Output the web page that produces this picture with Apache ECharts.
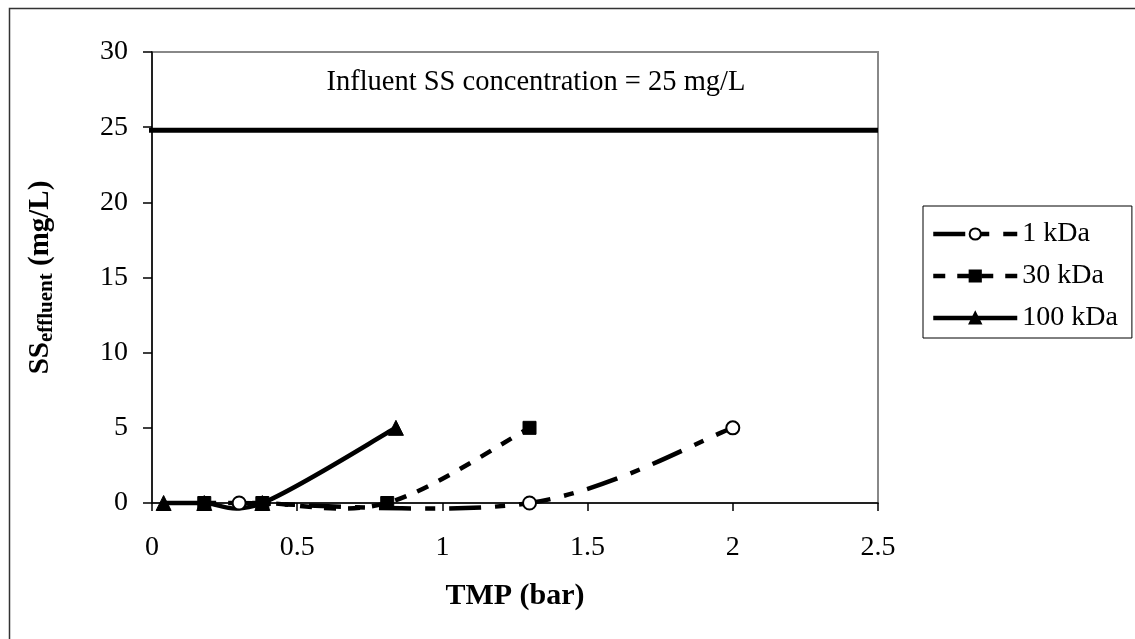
<!DOCTYPE html>
<html>
<head>
<meta charset="utf-8">
<script src="https://cdn.jsdelivr.net/npm/echarts@6/dist/echarts.min.js"></script>
<style>
html,body{margin:0;padding:0;background:#fff;}
#chart{width:1135px;height:639px;}
</style>
</head>
<body>
<div id="chart"></div>
<script>
// ---- data ----
const seriesNames = ['1 kDa', '30 kDa', '100 kDa'];
const tmp1 = [0.30, 1.30, 2.00];
const ss1 = [0, 0, 5];
const tmp30 = [0.18, 0.38, 0.81, 1.30];
const ss30 = [0, 0, 0, 5];
const tmp100 = [0.04, 0.18, 0.38, 0.84];
const ss100 = [0, 0, 0, 5];
const influentX = [-0.025, 2.5];
const influentY = [24.8, 24.8];
const influentLabel = 'Influent SS concentration = 25 mg/L';
const influentLabelPos = [1.322, 27.94];
const xTicks = [0, 0.5, 1, 1.5, 2, 2.5];
const yTicks = [0, 5, 10, 15, 20, 25, 30];

const zip = (xs, ys) => xs.map((x, i) => [x, ys[i]]);
const FONT = '"Liberation Serif", "Times New Roman", serif';

const dash1 = [32, 14, 10, 14];
const dash30 = [12, 12];
const LW = 4.5;

// Excel-style smoothed line (Catmull-Rom bezier) built on pixel points from api.coord
function smoothPath(pts) {
  const n = pts.length;
  const tan = pts.map((p, i) => {
    const a = pts[Math.max(0, i - 1)], b = pts[Math.min(n - 1, i + 1)];
    return [(b[0] - a[0]) / 6, (b[1] - a[1]) / 6];
  });
  let d = 'M' + pts[0][0] + ' ' + pts[0][1];
  for (let i = 0; i < n - 1; i++) {
    const p = pts[i], q = pts[i + 1];
    d += ' C' + (p[0] + tan[i][0]) + ' ' + (p[1] + tan[i][1]) + ' ' +
      (q[0] - tan[i + 1][0]) + ' ' + (q[1] - tan[i + 1][1]) + ' ' + q[0] + ' ' + q[1];
  }
  return d;
}

function curveSeries(xs, ys, dash, z) {
  return {
    type: 'custom', name: '_curve' + z, data: zip(xs, ys), z: z, silent: true,
    encode: {x: 0, y: 1},
    renderItem: (params, api) => {
      if (params.dataIndex !== 0) return;
      const pts = xs.map((x, i) => api.coord([x, ys[i]]));
      return {
        type: 'path',
        shape: {pathData: smoothPath(pts)},
        style: {fill: null, stroke: '#000', lineWidth: LW, lineDash: dash, lineCap: 'butt'}
      };
    }
  };
}

const chart = echarts.init(document.getElementById('chart'), null, {renderer: 'canvas'});
chart.setOption({
  backgroundColor: '#fff',
  animation: false,
  graphic: [{
    type: 'rect', left: 7, top: 6, shape: {x: 0, y: 0, width: 1140, height: 650},
    style: {fill: 'none', stroke: '#333', lineWidth: 1.5}, z: -1
  }],
  grid: {
    left: 152, top: 52, right: 257, bottom: 136,
    show: true, borderColor: '#888', borderWidth: 2, backgroundColor: 'transparent'
  },
  legend: {
    orient: 'vertical',
    left: 923, top: 206,
    data: [
      {name: '1 kDa', lineStyle: {opacity: 1, color: '#000', width: LW, type: dash1}},
      {name: '30 kDa', lineStyle: {opacity: 1, color: '#000', width: LW, type: dash30}},
      {name: '100 kDa', lineStyle: {opacity: 1, color: '#000', width: LW, type: 'solid'}}
    ],
    itemWidth: 84, itemHeight: 14, itemGap: 14,
    padding: [14, 14, 6, 8],
    borderColor: '#000', borderWidth: 1,
    backgroundColor: '#fff',
    textStyle: {fontFamily: FONT, fontSize: 28, color: '#000', padding: [0, 0, 0, 0]}
  },
  xAxis: {
    type: 'value', min: xTicks[0], max: xTicks[xTicks.length - 1], interval: 0.5,
    name: 'TMP (bar)', nameLocation: 'middle', nameGap: 78,
    nameTextStyle: {fontFamily: FONT, fontSize: 30, fontWeight: 'bold', color: '#000'},
    axisLine: {lineStyle: {color: '#000', width: 1.5}},
    axisTick: {show: true, inside: false, length: 8, lineStyle: {color: '#000', width: 1.5}},
    axisLabel: {fontFamily: FONT, fontSize: 28, color: '#000', margin: 31,
      formatter: v => String(v)},
    splitLine: {show: false}
  },
  yAxis: {
    type: 'value', min: yTicks[0], max: yTicks[yTicks.length - 1], interval: 5,
    name: '{b|SS}{s|effluent}{b| (mg/L)}', nameLocation: 'middle', nameGap: 95, nameRotate: 90,
    nameTextStyle: {
      rich: {
        b: {fontFamily: FONT, fontSize: 29, fontWeight: 'bold', color: '#000'},
        s: {fontFamily: FONT, fontSize: 21, fontWeight: 'bold', color: '#000', padding: [12, 0, 0, 0]}
      }
    },
    axisLine: {show: true, lineStyle: {color: '#000', width: 1.5}},
    axisTick: {show: true, inside: false, length: 9, lineStyle: {color: '#000', width: 1.5}},
    axisLabel: {fontFamily: FONT, fontSize: 28, color: '#000', margin: 24},
    splitLine: {show: false}
  },
  series: [
    {
      name: 'influent', type: 'line', data: zip(influentX, influentY),
      symbol: 'none', lineStyle: {color: '#000', width: 5}, clip: false, z: 2,
      silent: true
    },
    {
      name: '_label', type: 'custom', data: [influentLabelPos], silent: true, z: 2,
      encode: {x: 0, y: 1},
      renderItem: (params, api) => {
        const p = api.coord([api.value(0), api.value(1)]);
        return {
          type: 'text', x: p[0], y: p[1],
          style: {text: influentLabel, fill: '#000', fontFamily: FONT, fontSize: 28.5,
            align: 'center', verticalAlign: 'middle'}
        };
      }
    },
    curveSeries(tmp100, ss100, null, 3),
    curveSeries(tmp30, ss30, dash30, 4),
    curveSeries(tmp1, ss1, dash1, 5),
    {
      name: '100 kDa', type: 'line', data: zip(tmp100, ss100),
      symbol: 'triangle', symbolSize: 15, showAllSymbol: true,
      itemStyle: {color: '#000', borderColor: '#000', borderWidth: 1},
      lineStyle: {color: '#000', width: LW, type: 'solid', opacity: 0}, z: 6
    },
    {
      name: '30 kDa', type: 'line', data: zip(tmp30, ss30),
      symbol: 'rect', symbolSize: 13, showAllSymbol: true,
      itemStyle: {color: '#000', borderColor: '#000', borderWidth: 1},
      lineStyle: {color: '#000', width: LW, type: dash30, opacity: 0}, z: 7
    },
    {
      name: '1 kDa', type: 'line', data: zip(tmp1, ss1),
      symbol: 'circle', symbolSize: 13, showAllSymbol: true,
      itemStyle: {color: '#fff', borderColor: '#000', borderWidth: 2},
      lineStyle: {color: '#000', width: LW, type: dash1, opacity: 0}, z: 8
    }
  ]
});
</script>
</body>
</html>
